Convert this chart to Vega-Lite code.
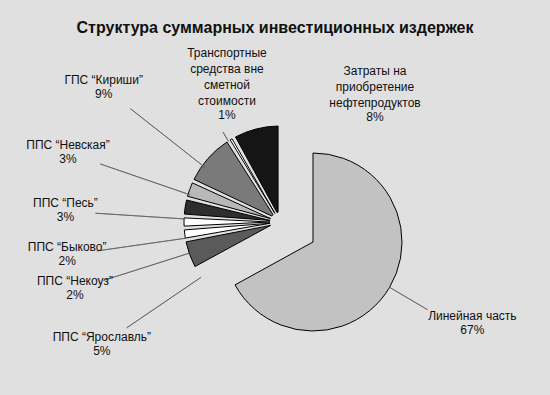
{
  "$schema": "https://vega.github.io/schema/vega-lite/v6.json",
  "width": 544,
  "height": 388,
  "autosize": {"type": "none"},
  "padding": {"left": 3, "right": 3, "top": 0, "bottom": 7},
  "background": "#e0e0e0",
  "title": {
    "text": "Структура суммарных инвестиционных издержек",
    "font": "Liberation Sans",
    "fontSize": 16,
    "fontWeight": "bold",
    "color": "#111111",
    "anchor": "middle",
    "frame": "group",
    "offset": -38
  },
  "config": {
    "view": {"stroke": "#3a3a3a", "strokeWidth": 1.5},
    "text": {"font": "Liberation Sans", "fontSize": 12, "fill": "#111111", "lineBreak": "\n", "lineHeight": 16}
  },
  "data": {
    "values": [
      {"name": "Линейная часть", "value": 0.67},
      {"name": "ППС “Ярославль”", "value": 0.05},
      {"name": "ППС “Некоуз”", "value": 0.02},
      {"name": "ППС “Быково”", "value": 0.02},
      {"name": "ППС “Песь”", "value": 0.03},
      {"name": "ППС “Невская”", "value": 0.03},
      {"name": "ГПС “Кириши”", "value": 0.09},
      {"name": "Транспортные\nсредства вне\nсметной\nстоимости", "value": 0.01},
      {"name": "Затраты на\nприобретение\nнефтепродуктов", "value": 0.08}
    ]
  },
  "transform": [{"window": [{"op": "row_number", "as": "idx"}]}],
  "resolve": {"scale": {"theta": "independent"}},
  "layer": [
    {
      "mark": {"type": "arc", "x": 310, "y": 242, "radius": 89, "stroke": "#000000", "strokeWidth": 1},
      "encoding": {
        "theta": {"field": "value", "type": "quantitative", "stack": true, "scale": {"domain": [0, 1]}},
        "order": {"field": "idx", "type": "quantitative"},
        "color": {
          "field": "name", "type": "nominal", "legend": null,
          "scale": {
            "domain": ["Линейная часть", "ППС “Ярославль”", "ППС “Некоуз”", "ППС “Быково”", "ППС “Песь”", "ППС “Невская”", "ГПС “Кириши”", "Транспортные\nсредства вне\nсметной\nстоимости", "Затраты на\nприобретение\nнефтепродуктов"],
            "range": ["#c2c2c2", "#5a5a5a", "#ffffff", "#ffffff", "#2e2e2e", "#b8b8b8", "#7a7a7a", "#ffffff", "#151515"]
          }
        },
        "opacity": {"condition": {"test": "datum.idx !== 1", "value": 0}, "value": 1}
      }
    },
    {
      "mark": {"type": "arc", "x": 277, "y": 222, "radius": 96, "radius2": 10, "padAngle": 0.04, "stroke": "#000000", "strokeWidth": 1},
      "encoding": {
        "theta": {"field": "value", "type": "quantitative", "stack": true, "scale": {"domain": [0, 1]}},
        "order": {"field": "idx", "type": "quantitative"},
        "color": {"field": "name", "type": "nominal", "legend": null},
        "opacity": {"condition": {"test": "datum.idx === 1", "value": 0}, "value": 1}
      }
    },
    {
      "mark": {"type": "arc", "x": 275, "y": 225, "radius": 183, "radius2": 93, "padAngle": 3, "fill": "transparent", "stroke": "#5a5a5a", "strokeWidth": 0.7},
      "encoding": {
        "theta": {"field": "value", "type": "quantitative", "stack": true, "scale": {"domain": [0, 1], "range": [-1.6319, 6.6376]}},
        "order": {"field": "idx", "type": "quantitative"},
        "opacity": {"condition": {"test": "datum.idx < 2 || datum.idx > 5", "value": 0}, "value": 1}
      }
    },
    {
      "mark": {"type": "text", "x": 275, "y": 225, "radius": 213, "baseline": "bottom", "dy": -1},
      "encoding": {
        "theta": {"field": "value", "type": "quantitative", "stack": true, "scale": {"domain": [0, 1], "range": [-1.6319, 6.6376]}},
        "order": {"field": "idx", "type": "quantitative"},
        "text": {"field": "name", "type": "nominal"},
        "opacity": {"condition": {"test": "datum.idx < 2 || datum.idx > 5", "value": 0}, "value": 1}
      }
    },
    {
      "mark": {"type": "text", "x": 275, "y": 225, "radius": 213, "baseline": "top", "dy": 1},
      "encoding": {
        "theta": {"field": "value", "type": "quantitative", "stack": true, "scale": {"domain": [0, 1], "range": [-1.6319, 6.6376]}},
        "order": {"field": "idx", "type": "quantitative"},
        "text": {"field": "value", "type": "quantitative", "format": ".0%"},
        "opacity": {"condition": {"test": "datum.idx < 2 || datum.idx > 5", "value": 0}, "value": 1}
      }
    },
    {
      "mark": {"type": "arc", "x": 275, "y": 225, "radius": 188, "radius2": 93, "padAngle": 3, "fill": "transparent", "stroke": "#5a5a5a", "strokeWidth": 0.7},
      "encoding": {
        "theta": {"field": "value", "type": "quantitative", "stack": true, "scale": {"domain": [0, 1], "range": [0.5219, 6.1383]}},
        "order": {"field": "idx", "type": "quantitative"},
        "opacity": {"condition": {"test": "datum.idx < 6 || datum.idx > 7", "value": 0}, "value": 1}
      }
    },
    {
      "mark": {"type": "text", "x": 275, "y": 225, "radius": 222, "baseline": "bottom", "dy": -1},
      "encoding": {
        "theta": {"field": "value", "type": "quantitative", "stack": true, "scale": {"domain": [0, 1], "range": [0.5219, 6.1383]}},
        "order": {"field": "idx", "type": "quantitative"},
        "text": {"field": "name", "type": "nominal"},
        "opacity": {"condition": {"test": "datum.idx < 6 || datum.idx > 7", "value": 0}, "value": 1}
      }
    },
    {
      "mark": {"type": "text", "x": 275, "y": 225, "radius": 222, "baseline": "top", "dy": 1},
      "encoding": {
        "theta": {"field": "value", "type": "quantitative", "stack": true, "scale": {"domain": [0, 1], "range": [0.5219, 6.1383]}},
        "order": {"field": "idx", "type": "quantitative"},
        "text": {"field": "value", "type": "quantitative", "format": ".0%"},
        "opacity": {"condition": {"test": "datum.idx < 6 || datum.idx > 7", "value": 0}, "value": 1}
      }
    },
    {
      "mark": {"type": "text", "x": 275, "y": 225, "radius": 127, "baseline": "bottom", "dy": -49},
      "encoding": {
        "theta": {"field": "value", "type": "quantitative", "stack": true, "scale": {"domain": [0, 1], "range": [0.1204, 6.4036]}},
        "order": {"field": "idx", "type": "quantitative"},
        "text": {"field": "name", "type": "nominal"},
        "opacity": {"condition": {"test": "datum.idx !== 8", "value": 0}, "value": 1}
      }
    },
    {
      "mark": {"type": "text", "x": 275, "y": 225, "radius": 127, "baseline": "top", "dy": 1},
      "encoding": {
        "theta": {"field": "value", "type": "quantitative", "stack": true, "scale": {"domain": [0, 1], "range": [0.1204, 6.4036]}},
        "order": {"field": "idx", "type": "quantitative"},
        "text": {"field": "value", "type": "quantitative", "format": ".0%"},
        "opacity": {"condition": {"test": "datum.idx !== 8", "value": 0}, "value": 1}
      }
    },
    {
      "mark": {"type": "text", "x": 275, "y": 225, "radius": 150, "baseline": "bottom", "dy": -33},
      "encoding": {
        "theta": {"field": "value", "type": "quantitative", "stack": true, "scale": {"domain": [0, 1], "range": [0.9547, 7.2379]}},
        "order": {"field": "idx", "type": "quantitative"},
        "text": {"field": "name", "type": "nominal"},
        "opacity": {"condition": {"test": "datum.idx !== 9", "value": 0}, "value": 1}
      }
    },
    {
      "mark": {"type": "text", "x": 275, "y": 225, "radius": 150, "baseline": "top", "dy": 1},
      "encoding": {
        "theta": {"field": "value", "type": "quantitative", "stack": true, "scale": {"domain": [0, 1], "range": [0.9547, 7.2379]}},
        "order": {"field": "idx", "type": "quantitative"},
        "text": {"field": "value", "type": "quantitative", "format": ".0%"},
        "opacity": {"condition": {"test": "datum.idx !== 9", "value": 0}, "value": 1}
      }
    },
    {
      "mark": {"type": "text", "x": 310, "y": 242, "radius": 179, "baseline": "bottom", "dy": -1},
      "encoding": {
        "theta": {"field": "value", "type": "quantitative", "stack": true, "scale": {"domain": [0, 1], "range": [-0.0611, 6.2221]}},
        "order": {"field": "idx", "type": "quantitative"},
        "text": {"field": "name", "type": "nominal"},
        "opacity": {"condition": {"test": "datum.idx !== 1", "value": 0}, "value": 1}
      }
    },
    {
      "mark": {"type": "text", "x": 310, "y": 242, "radius": 179, "baseline": "top", "dy": 1},
      "encoding": {
        "theta": {"field": "value", "type": "quantitative", "stack": true, "scale": {"domain": [0, 1], "range": [-0.0611, 6.2221]}},
        "order": {"field": "idx", "type": "quantitative"},
        "text": {"field": "value", "type": "quantitative", "format": ".0%"},
        "opacity": {"condition": {"test": "datum.idx !== 1", "value": 0}, "value": 1}
      }
    },
    {
      "mark": {"type": "arc", "x": 310, "y": 242, "radius": 133, "radius2": 89, "padAngle": 3, "fill": "transparent", "stroke": "#5a5a5a", "strokeWidth": 0.7},
      "encoding": {
        "theta": {"field": "value", "type": "quantitative", "stack": true, "scale": {"domain": [0, 1], "range": [1.0524, 4.194]}},
        "order": {"field": "idx", "type": "quantitative"},
        "opacity": {"condition": {"test": "datum.idx !== 1", "value": 0}, "value": 1}
      }
    },
    {
      "mark": {"type": "arc", "x": 275, "y": 225, "radius": 108, "radius2": 97, "padAngle": 3, "fill": "transparent", "stroke": "#5a5a5a", "strokeWidth": 0.7},
      "encoding": {
        "theta": {"field": "value", "type": "quantitative", "stack": true, "scale": {"domain": [0, 1]}},
        "order": {"field": "idx", "type": "quantitative"},
        "opacity": {"condition": {"test": "datum.idx !== 8", "value": 0}, "value": 1}
      }
    }
  ]
}
